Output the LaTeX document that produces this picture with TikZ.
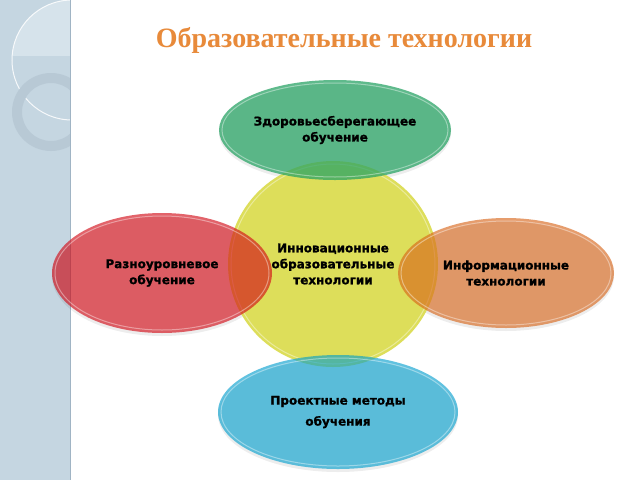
\documentclass[tikz,border=0pt]{standalone}
\usepackage{fontspec}
\setmainfont{Liberation Serif}
\newfontfamily\lblfont[FakeBold=1.2]{DejaVu Sans}
\usetikzlibrary{shapes.geometric}
\definecolor{stripc}{RGB}{197,214,225}
\definecolor{stripl}{RGB}{214,227,235}
\definecolor{ringc}{RGB}{184,201,213}
\definecolor{stripedge}{RGB}{160,180,196}
\definecolor{titlec}{RGB}{232,138,58}
\definecolor{yel}{RGB}{221,222,90}
\definecolor{grn}{RGB}{42,164,102}
\definecolor{redc}{RGB}{211,11,22}
\definecolor{orn}{RGB}{216,101,25}
\definecolor{blu}{RGB}{0,158,206}
\begin{document}
\begin{tikzpicture}[x=1pt,y=-1pt,
  bub/.style={ellipse, inner sep=0pt, align=center, text opacity=1,
    font=\lblfont\bfseries\fontsize{12}{16}\selectfont, text=black},
  rim/.style={draw=white, draw opacity=0.4, line width=1pt},
  shade/.style={fill=black, fill opacity=0.07}]
\useasboundingbox (0,0) rectangle (640,480);
\fill[white] (0,0) rectangle (640,480);
% decorative strip
\fill[stripc] (0,0) rectangle (70,480);
\begin{scope}
  \clip (0,0) rectangle (70,480);
  \begin{scope}
    \clip (0,0) rectangle (70,55);
    \fill[stripl] (72,60) circle [radius=60pt];
  \end{scope}
  \draw[white, line width=1pt, opacity=0.85] (72,60) circle [radius=60pt];
  \fill[ringc, even odd rule] (51,112) circle [radius=39pt] (51,112) circle [radius=29pt];
\end{scope}
\draw[stripedge, line width=1pt] (70,0) -- (70,480);
% title
\node[font=\bfseries\fontsize{28}{32}\selectfont, text=titlec] (title) at (344,40) {Образовательные технологии};
% shadows
\fill[shade] (335,133) ellipse [x radius=116pt, y radius=50pt];
\fill[shade] (162,276) ellipse [x radius=110pt, y radius=60pt];
\fill[shade] (506,276) ellipse [x radius=108pt, y radius=55pt];
\fill[shade] (338,415) ellipse [x radius=120pt, y radius=57pt];
% central circle
\node[bub, fill=yel, minimum width=210pt, minimum height=206pt] (core) at (333,264)
  {Инновационные\\образовательные\\технологии};
\draw[rim] (core.center) ellipse [x radius=102pt, y radius=100pt];
% satellites
\node[bub, fill=grn, fill opacity=0.75, minimum width=232pt, minimum height=100pt] (health) at (335,130)
  {Здоровьесберегающее\\обучение};
\draw[rim] (health.center) ellipse [x radius=113pt, y radius=47pt];
\node[bub, fill=redc, fill opacity=0.64, minimum width=220pt, minimum height=120pt] (level) at (162,273)
  {Разноуровневое\\обучение};
\draw[rim] (level.center) ellipse [x radius=107pt, y radius=57pt];
\node[bub, fill=orn, fill opacity=0.63, minimum width=216pt, minimum height=110pt] (info) at (506,273)
  {Информационные\\технологии};
\draw[rim] (info.center) ellipse [x radius=105pt, y radius=52pt];
\node[bub, fill=blu, fill opacity=0.62, minimum width=240pt, minimum height=114pt,
  font=\lblfont\bfseries\fontsize{12}{21}\selectfont] (project) at (338,412)
  {Проектные методы\\обучения};
\draw[rim] (project.center) ellipse [x radius=117pt, y radius=54pt];
\end{tikzpicture}
\end{document}
